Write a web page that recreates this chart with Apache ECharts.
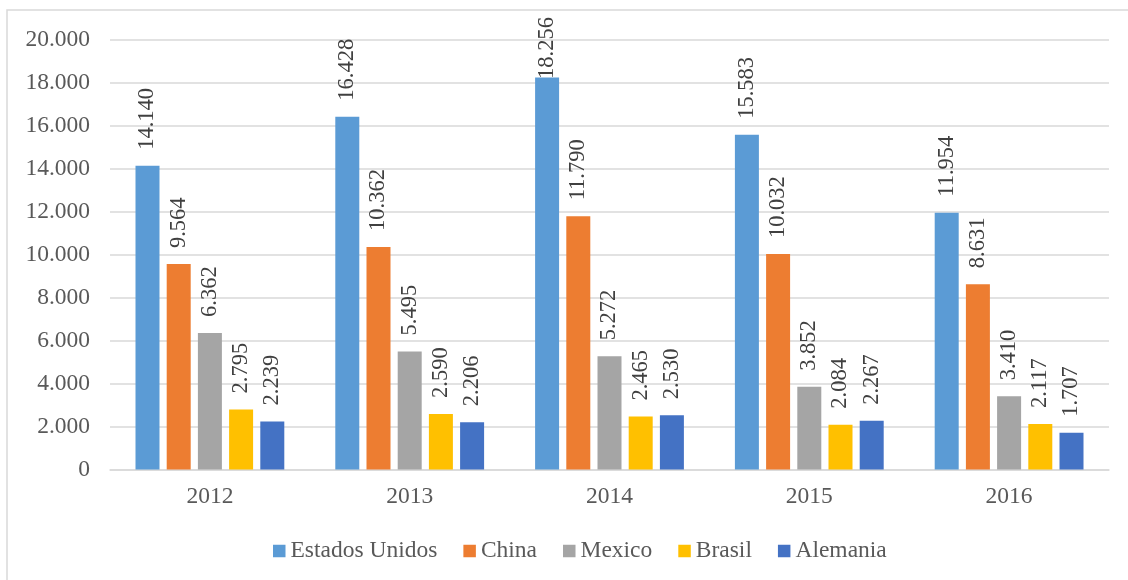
<!DOCTYPE html>
<html><head><meta charset="utf-8">
<script src="https://cdn.jsdelivr.net/npm/echarts@6/dist/echarts.min.js"></script>
<style>html,body{margin:0;padding:0;background:#fff}#c{width:1128px;height:580px}</style>
</head><body><div id="c"></div>
<script>
var categories = ['2012','2013','2014','2015','2016'];
var seriesNames = ['Estados Unidos','China','Mexico','Brasil','Alemania'];
var estadosUnidos = [14140,16428,18256,15583,11954];
var china = [9564,10362,11790,10032,8631];
var mexico = [6362,5495,5272,3852,3410];
var brasil = [2795,2590,2465,2084,2117];
var alemania = [2239,2206,2530,2267,1707];
var yTicks = [0,2000,4000,6000,8000,10000,12000,14000,16000,18000,20000];
var colors = ['#5B9BD5','#ED7D31','#A5A5A5','#FFC000','#4472C4'];
var values = [estadosUnidos, china, mexico, brasil, alemania];
var font = 'Liberation Serif';
var labelSize = 22.5, labelDist = 16, labelTopLimit = 17;
function fmt(v){ var s=String(v); if(v>=1000){ s=Math.floor(v/1000)+'.'+String(v%1000).padStart(3,'0'); } return s; }
var chart = echarts.init(document.getElementById('c'));
function buildSeries(adjust){
  return seriesNames.map(function(n,i){return {
    name:n,type:'bar',barWidth:24,barGap:'30%',
    data:values[i].map(function(v,j){
      var d = {value:v};
      if(adjust && adjust[i] && adjust[i][j]!=null){ d.label={distance:adjust[i][j]}; }
      return d;
    }),
    itemStyle:{color:colors[i]},
    label:{show:true,position:'top',rotate:90,align:'left',verticalAlign:'middle',distance:labelDist,
      fontFamily:font,fontSize:labelSize,color:'#404040',formatter:function(p){return fmt(p.value);}}
  };});
}
chart.setOption({
  animation:false,
  textStyle:{fontFamily:font},
  graphic:[{type:'rect',shape:{x:7,y:10,width:1130,height:580},style:{fill:'none',stroke:'#d9d9d9',lineWidth:1.5},silent:true}],
  grid:{left:110,right:19,top:40,bottom:110.5},
  legend:{top:534,left:268,itemWidth:12.5,itemHeight:12.5,itemGap:26,icon:'rect',
    textStyle:{fontFamily:font,fontSize:23.5,color:'#595959'},data:seriesNames},
  xAxis:{type:'category',data:categories,
    axisLine:{lineStyle:{color:'#d9d9d9',width:1.5}},axisTick:{show:false},
    axisLabel:{fontFamily:font,fontSize:23.5,color:'#595959',margin:15}},
  yAxis:{type:'value',min:0,max:20000,interval:2000,
    axisLine:{show:false},axisTick:{show:false},
    splitLine:{lineStyle:{color:'#d9d9d9',width:1.5}},
    axisLabel:{fontFamily:font,fontSize:23.5,color:'#595959',margin:20,
      formatter:function(v){return yTicks.indexOf(v)>=0?fmt(v):'';}}},
  series: buildSeries(null)
});
var ctx = document.createElement('canvas').getContext('2d');
ctx.font = labelSize + 'px "' + font + '"';
var adjust = values.map(function(arr){
  return arr.map(function(v,j){
    var top = chart.convertToPixel({gridIndex:0},[j,v])[1];
    var w = ctx.measureText(fmt(v)).width;
    if(top - labelDist - w < labelTopLimit){ return top - labelTopLimit - w; }
    return null;
  });
});
chart.setOption({series: buildSeries(adjust)});
</script></body></html>
